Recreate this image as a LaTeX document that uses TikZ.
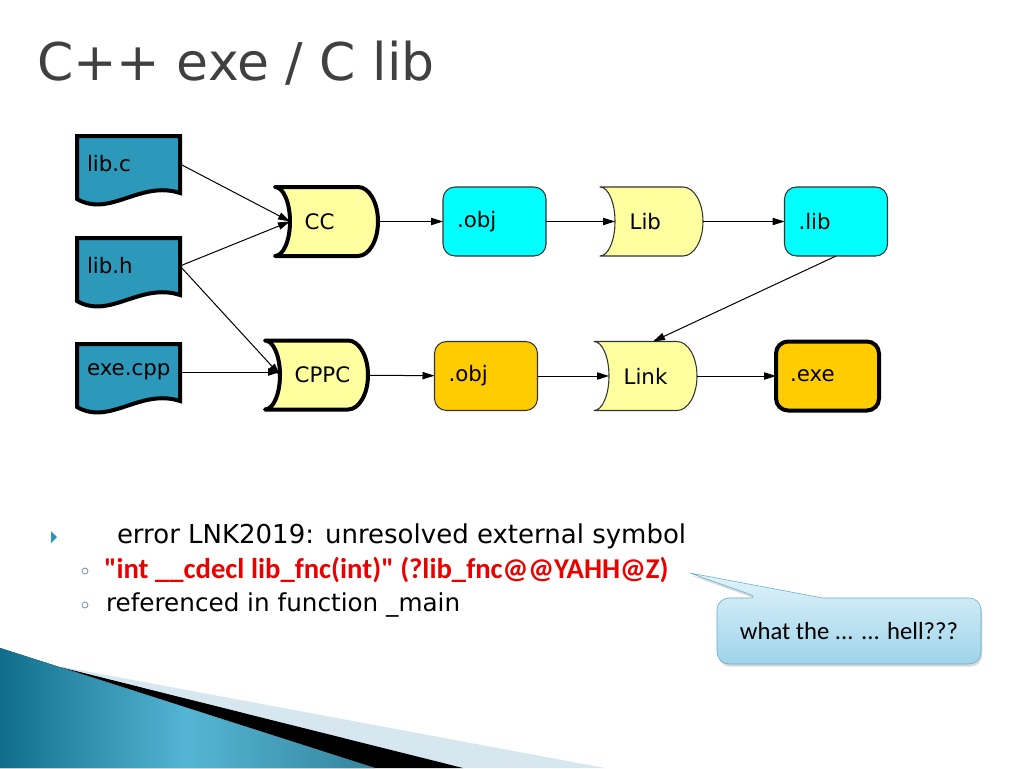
\documentclass[tikz,border=0pt]{standalone}
\usepackage{fontspec}
\setmainfont{DejaVu Sans}
\newfontfamily\calibri{Carlito}
\usetikzlibrary{arrows.meta,backgrounds,calc,shadows}

\definecolor{docblue}{RGB}{44,152,186}
\definecolor{paleyellow}{RGB}{255,255,160}
\definecolor{objcyan}{RGB}{0,255,255}
\definecolor{exeorange}{RGB}{255,204,0}
\definecolor{titlegray}{RGB}{64,64,64}
\definecolor{errred}{RGB}{235,0,0}
\definecolor{bubbletop}{RGB}{226,243,251}
\definecolor{bubblebot}{RGB}{158,212,234}
\definecolor{bubbleline}{RGB}{96,172,202}
\definecolor{swooshlight}{RGB}{214,231,240}
\definecolor{swooshdark}{RGB}{16,110,140}
\definecolor{swooshmid}{RGB}{84,182,212}
\definecolor{bulletteal}{RGB}{40,150,185}
\definecolor{ringgray}{RGB}{110,150,170}

\begin{document}
\begin{tikzpicture}[x=0.75pt,y=-0.75pt,line width=0.75pt,
  every node/.style={font=\fontsize{16}{19}\selectfont,outer sep=0pt},
  file/.style={minimum width=77.25pt,minimum height=42pt,text width=62.25pt,inner xsep=7.5pt,align=left},
  tool/.style={minimum width=66pt,minimum height=51.75pt,text width=44pt,inner xsep=11pt,align=left},
  box/.style={minimum width=77.25pt,minimum height=51.75pt,text width=56.25pt,inner xsep=10.5pt,
    align=left,rounded corners=9pt,draw=black!80,line width=0.8pt},
  heavy/.style={line width=3pt,draw=black},
  light/.style={line width=0.8pt,draw=black!80},
  flow/.style={-{Triangle[length=9pt,width=5.5pt]}},
  txt/.style={anchor=base west,inner sep=0pt},
  ring/.style={circle,draw=ringgray,line width=0.6pt,minimum size=4.5pt,inner sep=0pt}]

\useasboundingbox (0,0) rectangle (1024,768);

\fill[swooshlight] (58,666) -- (605,768) -- (463,768) -- cycle;
\fill[black] (60,667) -- (463,768) -- (375,768) -- cycle;
\fill[left color=swooshdark,right color=swooshdark!85!white,middle color=swooshmid]
  (0,648) -- (375,768) -- (0,768) -- cycle;

\node[txt,font=\fontsize{39}{46}\selectfont,text=titlegray] (title) at (37,80) {C++ exe / C lib};

\node[file] (libc) at (128.5,164) {lib.c};
\node[file] (libh) at (128.5,266) {lib.h};
\node[file] (exe) at (128.5,372) {exe.cpp};
\node[tool] (cc) at (334,221.5) {CC};
\node[tool] (cppc) at (324,375) {CPPC};
\node[tool] (lib) at (659,221.5) {Lib};
\node[tool] (link) at (653,376) {Link};
\node[box,fill=objcyan] (obja) at (494.5,221.5) {.obj};
\node[box,fill=objcyan] (libf) at (836,221.5) {.lib};
\node[box,fill=exeorange] (objb) at (486,376) {.obj};
\node[box,fill=exeorange,heavy] (exef) at (827.5,376) {.exe};

\begin{scope}[on background layer]
\foreach \n in {libc,libh,exe}
  \draw[heavy,fill=docblue] (\n.north west) -- (\n.north east) -- ($(\n.south east)+(0,1)$)
    .. controls ($(\n.south east)+(-40,-12)$) and ($(\n.south west)+(33,26)$) .. ($(\n.south west)+(0,7)$) -- cycle;
\foreach \n/\s in {cc/heavy,cppc/heavy,lib/light,link/light}
  \draw[\s,fill=paleyellow,line join=round] ($(\n.north west)+(-15,0)$) -- ($(\n.north east)+(-20,0)$)
    arc[start angle=90,end angle=-90,x radius=15pt,y radius=25.875pt] -- ($(\n.south west)+(-15,0)$)
    arc[start angle=-90,end angle=90,x radius=11.25pt,y radius=25.875pt] -- cycle;
\end{scope}

\draw[flow] (libc.east) -- (cc.west);
\draw[flow] (libh.east) -- (cc.west);
\draw[flow] (libh.east) -- (cppc.west);
\draw[flow] (exe.east) -- (exe.east -| cppc.west);
\draw[flow] (cc) -- (obja);
\draw[flow] (obja) -- (lib);
\draw[flow] (lib) -- (libf);
\draw[flow] (libf.south) -- (link.north);
\draw[flow] (cppc) -- (objb);
\draw[flow] (objb) -- (link);
\draw[flow] (link) -- (exef);

\fill[bulletteal] (51,531) -- (57,537) -- (51,543) -- cycle;
\node[txt,font=\fontsize{19.5}{23}\selectfont] (err) at (117,543) {error LNK2019: unresolved external symbol};
\node[ring] (r1) at (85,571) {};
\node[txt,font=\calibri\bfseries\fontsize{21.5}{25}\selectfont,text=errred] (sym) at (104,578)
  {"int \_\_cdecl lib\_fnc(int)" (?lib\_fnc@@YAHH@Z)};
\node[ring] (r2) at (85,605) {};
\node[txt,font=\fontsize{18.5}{22}\selectfont] (ref) at (106,611) {referenced in function \_main};

\node[font=\calibri\fontsize{18.5}{22}\selectfont,minimum width=198pt,minimum height=49.5pt] (bubble) at (849,631)
  {what the ... ... hell???};
\coordinate (tip) at (690,573);
\begin{scope}[on background layer]
\draw[bubbleline,top color=bubbletop,bottom color=bubblebot,
  drop shadow={shadow xshift=1pt,shadow yshift=-2pt,opacity=0.3}]
  (bubble.west) [rounded corners=9pt] -- (bubble.north west) -- ($(bubble.north)+(-89,0)$)
  [sharp corners] -- (tip) -- ($(bubble.north)+(-26,0)$) [rounded corners=9pt]
  -- (bubble.north east) -- (bubble.south east) -- (bubble.south west) -- cycle;
\end{scope}

\end{tikzpicture}
\end{document}
